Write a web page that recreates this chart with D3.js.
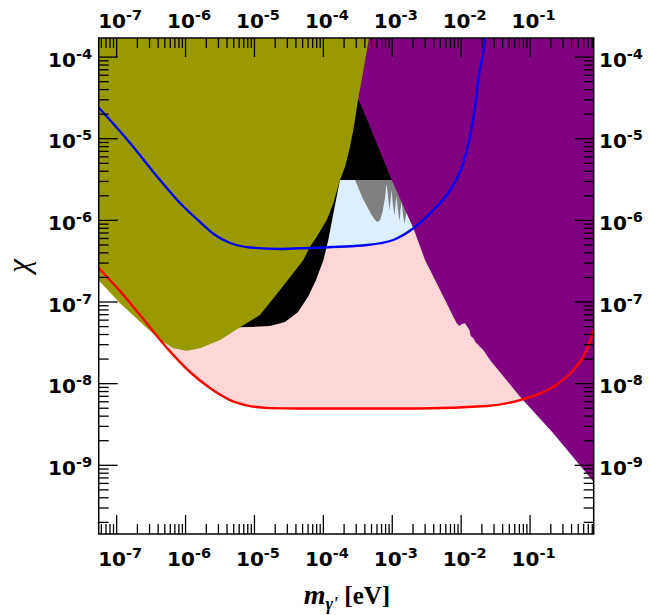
<!DOCTYPE html>
<html><head><meta charset="utf-8">
<script src="https://cdn.jsdelivr.net/npm/d3@7"></script>
<style>body{margin:0;background:#fff}svg{display:block}</style>
</head><body>
<svg id="chart" width="650" height="615"></svg>
<script>
// ---- axis data ----
const xDomain = [5.58e-8, 0.853];
const yDomain = [1.42e-10, 1.69e-4];
const xMajorTicks = [1e-7, 1e-6, 1e-5, 1e-4, 1e-3, 1e-2, 1e-1];
const yMajorTicks = [1e-9, 1e-8, 1e-7, 1e-6, 1e-5, 1e-4];
const xTitle = ["m", "γ'", " [eV]"];
const yTitle = "χ";

// ---- region boundaries [mass eV, chi] ----
const oliveBoundary = [
  [1e-8, 1e-3], [1e-8, 1.75e-7], [5.83e-8, 1.75e-7], [1.14e-7, 9.5e-8], [2.22e-7, 5.65e-8],
  [4.33e-7, 3.37e-8], [6.76e-7, 2.67e-8], [1.06e-6, 2.49e-8], [1.65e-6, 2.67e-8],
  [3.22e-6, 3.37e-8], [6.28e-6, 4.83e-8], [1.22e-5, 6.84e-8], [2.39e-5, 1.38e-7],
  [5.21e-5, 3.23e-7], [6.52e-5, 4.70e-7], [8.15e-5, 6.22e-7], [1.14e-4, 9.98e-7],
  [1.42e-4, 1.60e-6], [1.77e-4, 3.08e-6], [2.10e-4, 4.49e-6], [2.48e-4, 7.89e-6],
  [2.77e-4, 1.26e-5], [3.27e-4, 3.09e-5], [1e-3, 3e-4], [1e-3, 1e-3]
];
const purpleBoundary = [
  [5.3e-4, 1e-3], [5.3e-4, 3e-4], [4.68e-4, 1.69e-4], [3.66e-4, 5.18e-5], [3.27e-4, 3.09e-5],
  [9.98e-4, 3.08e-6], [2.06e-3, 7.88e-7], [3.04e-3, 3.23e-7], [4.25e-3, 1.83e-7],
  [5.60e-3, 1.15e-7], [7.83e-3, 6.52e-8], [8.77e-3, 5.41e-8], [9.58e-3, 5.01e-8],
  [1.04e-2, 5.30e-8], [1.16e-2, 5.41e-8], [1.25e-2, 4.91e-8], [1.34e-2, 4.48e-8],
  [1.40e-2, 3.78e-8], [1.53e-2, 3.54e-8], [1.67e-2, 3.13e-8], [1.80e-2, 2.93e-8],
  [2.13e-2, 2.55e-8], [2.67e-2, 1.92e-8], [7.28e-2, 6.81e-9], [0.221, 2.43e-9],
  [0.853, 6.14e-10], [2, 2.6e-10], [2, 1e-3]
];
const blackBoundary = [
  [3.27e-4, 3.09e-5], [1.11e-3, 3.08e-6], [1.77e-4, 3.08e-6], [1.42e-4, 1.20e-6],
  [1.20e-4, 5.67e-7], [1.02e-4, 3.23e-7], [7.96e-5, 1.83e-7], [6.10e-5, 1.14e-7],
  [4.36e-5, 7.43e-8], [2.82e-5, 5.61e-8], [1.71e-5, 5.01e-8], [6.28e-6, 4.83e-8],
  [3.22e-6, 4.83e-8]
];
const grayBoundary = [
  [2.93e-4, 3.08e-6], [3.24e-4, 2.53e-6], [3.71e-4, 1.91e-6], [4.34e-4, 1.48e-6],
  [5.00e-4, 1.18e-6], [5.72e-4, 9.98e-7], [6.21e-4, 9.42e-7], [6.76e-4, 9.98e-7],
  [7.35e-4, 1.25e-6], [7.98e-4, 1.85e-6], [8.40e-4, 2.75e-6], [8.83e-4, 1.96e-6],
  [9.29e-4, 1.29e-6], [9.60e-4, 1.75e-6], [9.93e-4, 2.32e-6], [1.04e-3, 1.52e-6],
  [1.10e-3, 1.12e-6], [1.13e-3, 1.52e-6], [1.17e-3, 1.96e-6], [1.23e-3, 1.32e-6],
  [1.30e-3, 9.70e-7], [1.34e-3, 1.32e-6], [1.39e-3, 1.66e-6], [1.46e-3, 1.15e-6],
  [1.53e-3, 8.89e-7], [1.61e-3, 1.15e-6], [1.66e-3, 1.40e-6], [1.66e-3, 3.08e-6]
];
const regionTopChi = 3.08e-6;
const pinkLeftCorner = [4.66e-5, 3.08e-6];

// ---- sensitivity curves [mass eV, chi] ----
const redLine = [
  [5.4e-8, 2.65e-7], [1.14e-7, 1.34e-7], [2.22e-7, 6.84e-8], [5.53e-7, 2.67e-8],
  [1.18e-6, 1.37e-8], [2.30e-6, 8.71e-9], [4.50e-6, 6.21e-9], [8.77e-6, 5.24e-9],
  [1.71e-5, 4.95e-9], [4.66e-5, 4.89e-9], [2.57e-3, 4.90e-9], [2.39e-2, 5.24e-9],
  [7.28e-2, 6.21e-9], [0.221, 9.03e-9], [0.432, 1.45e-8], [0.676, 2.55e-8],
  [0.826, 4.07e-8], [0.9, 5.3e-8]
];
const blueLine = [
  [5.4e-8, 2.45e-5], [1.59e-7, 8.76e-6], [4.33e-7, 3.08e-6], [8.46e-7, 1.61e-6],
  [1.65e-6, 9.42e-7], [2.72e-6, 6.53e-7], [4.50e-6, 5.21e-7], [8.77e-6, 4.59e-7],
  [2.39e-5, 4.40e-7], [4.66e-5, 4.49e-7], [4.33e-4, 4.92e-7], [1.05e-3, 5.67e-7],
  [2.06e-3, 7.88e-7], [4.01e-3, 1.32e-6], [7.02e-3, 2.32e-6], [1.09e-2, 4.94e-6],
  [1.37e-2, 1.05e-5], [1.62e-2, 2.44e-5], [1.80e-2, 5.18e-5], [2.26e-2, 1.69e-4],
  [2.4e-2, 3e-4]
];

// ---- layout ----
const plot = {left: 98.7, right: 593.7, top: 38, bottom: 534};
const svg = d3.select("#chart");
const x = d3.scaleLog().domain(xDomain).range([plot.left, plot.right]);
const y = d3.scaleLog().domain(yDomain).range([plot.bottom, plot.top]);

svg.append("defs").append("clipPath").attr("id", "clip")
  .append("rect").attr("x", plot.left).attr("y", plot.top)
  .attr("width", plot.right - plot.left).attr("height", plot.bottom - plot.top);

const g = svg.append("g").attr("clip-path", "url(#clip)");
const line = d3.line().x(d => x(d[0])).y(d => y(d[1]));
const smooth = d3.line().x(d => x(d[0])).y(d => y(d[1])).curve(d3.curveMonotoneX);
const area = pts => line(pts) + "Z";
const tail = pts => pts.map(d => `L${x(d[0])},${y(d[1])}`).join("") + "Z";

// pink: above red line, below regionTopChi
const pinkPts = redLine.filter(d => d[0] >= 5.5e-7);
g.append("path").attr("d", smooth(pinkPts) + tail([[pinkPts[pinkPts.length-1][0], regionTopChi], pinkLeftCorner]))
  .attr("fill", "#ffd7d7");

// light blue: above blue line, below regionTopChi
const lbPts = blueLine.filter(d => d[0] >= 4.6e-5 && d[0] <= 1.1e-2);
g.append("path").attr("d", smooth(lbPts) + tail([[1.09e-2, regionTopChi], pinkLeftCorner]))
  .attr("fill", "#ddeeff");

g.append("path").attr("d", area(blackBoundary)).attr("fill", "#000");
g.append("path").attr("d", area(grayBoundary)).attr("fill", "#808080");
g.append("path").attr("d", area(oliveBoundary)).attr("fill", "#999900");
g.append("path").attr("d", area(purpleBoundary)).attr("fill", "#800080");

g.append("path").attr("d", smooth(blueLine)).attr("fill", "none").attr("stroke", "#0000ff").attr("stroke-width", 2.4);
g.append("path").attr("d", smooth(redLine)).attr("fill", "none").attr("stroke", "#ff0000").attr("stroke-width", 2.4);

// ---- ticks ----
const mult = [2,3,4,5,6,7,8,9];
const xMinor = [], yMinor = [];
for (let k = -8; k <= 0; k++) mult.forEach(m => { const v = m * Math.pow(10, k); if (v > xDomain[0] && v < xDomain[1]) xMinor.push(v); });
for (let k = -11; k <= -4; k++) mult.forEach(m => { const v = m * Math.pow(10, k); if (v > yDomain[0] && v < yDomain[1]) yMinor.push(v); });
const MAJ = 19, MIN = 10;
function styleAxis(sel) {
  sel.select(".domain").remove();
  sel.selectAll("line").attr("stroke", "#000").attr("stroke-width", 1.3);
  sel.selectAll("text").remove();
}
[[d3.axisBottom, `translate(0,${plot.bottom})`, x], [d3.axisTop, `translate(0,${plot.top})`, x],
 [d3.axisLeft, `translate(${plot.left},0)`, y], [d3.axisRight, `translate(${plot.right},0)`, y]].forEach(([ax, tr, sc]) => {
  const isX = sc === x;
  svg.append("g").attr("transform", tr)
    .call(ax(sc).tickValues(isX ? xMinor : yMinor).tickSizeInner(-MIN).tickSizeOuter(0).tickFormat(""))
    .call(styleAxis);
  svg.append("g").attr("transform", tr)
    .call(ax(sc).tickValues(isX ? xMajorTicks : yMajorTicks).tickSizeInner(-MAJ).tickSizeOuter(0).tickFormat(""))
    .call(styleAxis);
});

svg.append("rect").attr("x", plot.left).attr("y", plot.top)
  .attr("width", plot.right - plot.left).attr("height", plot.bottom - plot.top)
  .attr("fill", "none").attr("stroke", "#000").attr("stroke-width", 1.5);

// ---- tick labels ----
function sciLabel(px, py, v, anchor) {
  const e = Math.round(Math.log10(v));
  const t = svg.append("text").attr("x", px).attr("y", py).attr("text-anchor", anchor)
    .attr("font-family", "DejaVu Sans, sans-serif").attr("font-weight", "bold").attr("font-size", 20);
  t.append("tspan").text("10");
  t.append("tspan").attr("dy", -8).attr("font-size", 14.5).text("-" + Math.abs(e));
}
xMajorTicks.forEach(v => { sciLabel(x(v) + 4, plot.bottom + 32, v, "middle"); sciLabel(x(v) + 4, 28, v, "middle"); });
yMajorTicks.forEach(v => { sciLabel(92, y(v) + 10, v, "end"); sciLabel(599, y(v) + 10, v, "start"); });

// ---- axis titles ----
const xt = svg.append("text").attr("x", 347).attr("y", 604).attr("text-anchor", "middle")
  .attr("font-family", "Liberation Serif, Times New Roman, serif").attr("font-weight", "bold");
xt.append("tspan").attr("font-style", "italic").attr("font-size", 28).text(xTitle[0]);
xt.append("tspan").attr("font-style", "italic").attr("font-size", 18).attr("dy", 6).text(xTitle[1]);
xt.append("tspan").attr("font-size", 25).attr("dy", -6).text(xTitle[2]);

svg.append("text").attr("transform", "translate(29,266) rotate(-90)").attr("text-anchor", "middle")
  .attr("font-family", "Liberation Serif, Times New Roman, serif").attr("font-style", "italic")
  .attr("font-size", 31).text(yTitle);
</script>
</body></html>
